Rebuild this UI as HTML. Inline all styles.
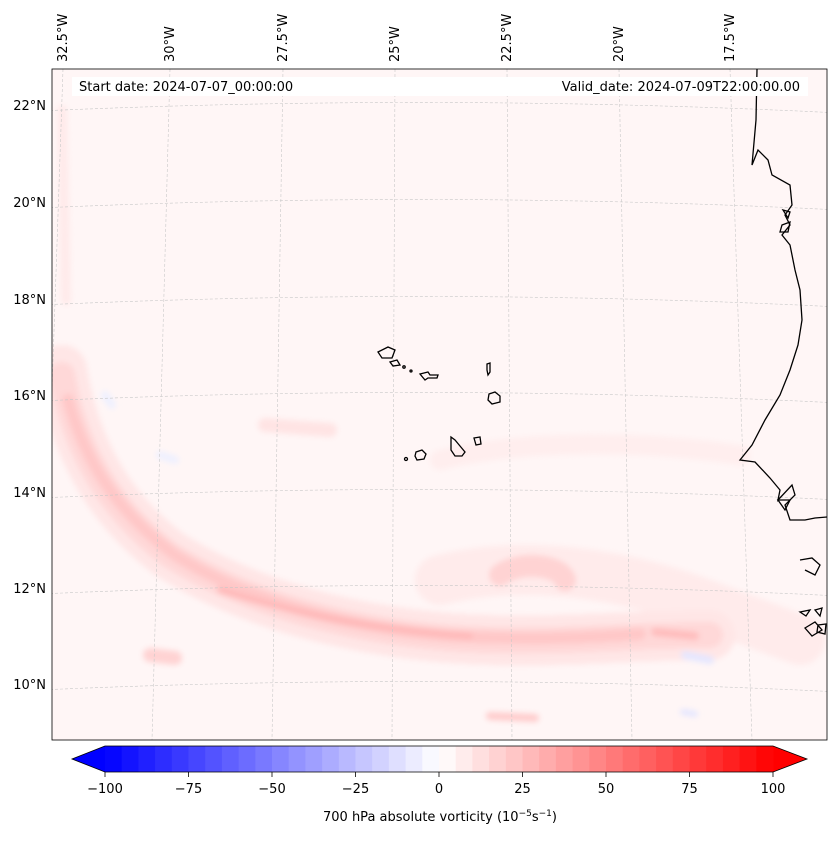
<!DOCTYPE html>
<html><head><meta charset="utf-8"><style>
body{margin:0;background:#fff;font-family:"Liberation Sans","DejaVu Sans",sans-serif;}
svg text{font-family:"DejaVu Sans","Liberation Sans",sans-serif;}
</style></head><body>
<svg id="chart" width="837" height="839" viewBox="0 0 837 839">
<defs><clipPath id="mapclip"><rect x="52" y="69" width="775" height="671"/></clipPath>
<filter id="blur"><feGaussianBlur stdDeviation="3"/></filter></defs>
<g clip-path="url(#mapclip)">
<rect x="52" y="69" width="775" height="671" fill="#fff6f6"/>
<g filter="url(#blur)" fill="none" stroke-linecap="round">
<path d="M62 110 L66 300" stroke="#ffeaea" stroke-width="10"/>
<path d="M440 580 C520 560 620 570 720 610 L800 640" stroke="#ffebeb" stroke-width="50"/>
<path d="M440 460 C520 440 640 440 740 455" stroke="#ffeeee" stroke-width="20"/>
<path d="M500 575 C520 560 560 565 565 580" stroke="#ffd3d3" stroke-width="22"/>
<path d="M62 370 C75 450 110 510 170 555 C250 605 350 630 450 638 C550 645 620 635 710 635" stroke="#ffe6e6" stroke-width="50"/>
<path d="M62 375 C75 450 110 510 170 555 C250 605 350 630 450 638 C550 645 620 635 710 635" stroke="#ffd8d8" stroke-width="26"/>
<path d="M68 400 C85 460 115 510 175 555 C250 603 350 628 450 636 C530 640 580 638 640 634" stroke="#ffc8c8" stroke-width="12"/>
<path d="M220 590 C300 615 380 630 470 636" stroke="#ffb8b8" stroke-width="6"/>
<path d="M655 632 L695 636" stroke="#ffbcbc" stroke-width="8"/>
<path d="M150 655 L175 658" stroke="#ffd3d3" stroke-width="14"/>
<path d="M490 716 L535 718" stroke="#ffcccc" stroke-width="8"/>
<path d="M265 425 L330 430" stroke="#ffe4e4" stroke-width="14"/>
<path d="M685 655 L710 660" stroke="#e4e6ff" stroke-width="8"/>
<path d="M160 455 L175 460" stroke="#eef0ff" stroke-width="8"/>
<path d="M105 395 L112 405" stroke="#eef0ff" stroke-width="8"/>
<path d="M683 712 L695 714" stroke="#e4e6ff" stroke-width="6"/>
</g>
<g id="grid" stroke="#c8c8c8" stroke-width="0.6" stroke-dasharray="3,2" fill="none"></g>
<g fill="none" stroke="#000" stroke-width="1.3">
<path d="M757 69 L756 120 L752 165 L758 150 L768 160 L772 175 L790 185 L792 205 L785 215 L790 225 L782 235 L790 245 L795 270 L800 290 L802 320 L798 345 L790 370 L780 395 L765 420 L752 445 L740 460 L755 462 L770 478 L780 490 L778 500 L792 485 L795 495 L785 505 L790 520 L805 520 L815 518 L827 517"/>
<path d="M778 500 L790 500 L785 510 Z"/>
<path d="M800 560 L812 558 L820 565 L815 575 L805 570"/>
<path d="M800 612 L810 610 L806 616 Z M815 610 L822 608 L820 616 Z M805 628 L815 622 L822 630 L812 636 Z M818 625 L826 624 L825 634 L817 632 Z"/>
<path d="M782 225 L790 222 L788 232 L780 232 Z M783 210 L790 212 L788 218 Z"/>
</g>
<g fill="none" stroke="#000" stroke-width="1.3">
<path d="M378 352 L388 347 L395 350 L392 358 L382 358 Z"/>
<path d="M390 362 L397 360 L400 365 L393 366 Z"/>
<circle cx="404" cy="367" r="1.2"/><circle cx="411" cy="371" r="1"/>
<path d="M420 374 L428 372 L430 375 L438 375 L437 378 L428 378 L425 380 Z"/>
<path d="M487 364 L490 363 L490 372 L488 375 L487 370 Z"/>
<path d="M489 394 L495 392 L500 396 L500 402 L492 404 L488 400 Z"/>
<path d="M451 437 L455 440 L460 446 L465 452 L462 456 L455 456 L451 450 Z"/>
<path d="M474 438 L480 437 L481 444 L476 445 Z"/>
<path d="M416 452 L422 450 L426 454 L424 459 L417 460 L415 456 Z"/>
<circle cx="406" cy="459" r="1.5"/>
</g>
</g>
<rect x="52" y="69" width="775" height="671" fill="none" stroke="#000" stroke-width="0.8"/>
<rect x="72" y="77" width="736" height="19" fill="#fff"/>
<text x="79" y="91" font-size="13">Start date: 2024-07-07_00:00:00</text>
<text x="800" y="91" font-size="13" text-anchor="end">Valid_date: 2024-07-09T22:00:00.00</text>
<g id="latlabels" font-size="13" text-anchor="end"></g>
<g id="lonlabels" font-size="13"></g>
<g id="cbar"></g>
<text x="440" y="821" font-size="13" text-anchor="middle">700 hPa absolute vorticity (10<tspan font-size="9" dy="-5">−5</tspan><tspan dy="5">s</tspan><tspan font-size="9" dy="-5">−1</tspan><tspan dy="5">)</tspan></text>
</svg>
<script>
const latLabels=["22°N","20°N","18°N","16°N","14°N","12°N","10°N"];
const latY=[105,202,299,395,492,588,684];
const lonLabels=["32.5°W","30°W","27.5°W","25°W","22.5°W","20°W","17.5°W"];
const lonTopX=[63,170,283,395,507,619,730];
const lonBotX=[40,152,272,392,512,632,752];
const cbarTicks=[-100,-75,-50,-25,0,25,50,75,100];
const cbarMin=-100,cbarMax=100,cbarStep=5;
const NS="http://www.w3.org/2000/svg";
function mk(t,a,p){const e=document.createElementNS(NS,t);for(const k in a)e.setAttribute(k,a[k]);p.appendChild(e);return e;}
const grid=document.getElementById('grid');
latY.forEach((y,i)=>{
 const p=mk('path',{d:`M40 ${y+6} Q440 ${y-12} 840 ${y+8}`},grid);
 
 
 const t=mk('text',{x:46,y:y+5},document.getElementById('latlabels'));t.textContent=latLabels[i];
 
 
});
lonTopX.forEach((x,i)=>{
 const p=mk('line',{x1:x,y1:69,x2:lonBotX[i],y2:740},grid);
 
 
 const t=mk('text',{x:0,y:0,transform:`translate(${x+4},62) rotate(-90)`},document.getElementById('lonlabels'));t.textContent=lonLabels[i];
 
 
});
const cb=document.getElementById('cbar');
const cx0=105,cx1=773,cy=746,ch=26;
const sx=v=>cx0+(v-cbarMin)/(cbarMax-cbarMin)*(cx1-cx0);
function bwr(t){let r,g,b;if(t<0.5){r=g=Math.round(255*t*2);b=255;}else{r=255;g=b=Math.round(255*(1-t)*2);}return `rgb(${r},${g},${b})`;}
mk('path',{d:`M${cx0} ${cy} L72 ${cy+ch/2} L${cx0} ${cy+ch} Z`,fill:'rgb(0,0,255)'},cb);
mk('path',{d:`M${cx1} ${cy} L807 ${cy+ch/2} L${cx1} ${cy+ch} Z`,fill:'rgb(255,0,0)'},cb);
for(let v=cbarMin;v<cbarMax;v+=cbarStep){
 const r=mk('rect',{x:sx(v),y:cy,width:sx(v+cbarStep)-sx(v)+0.5,height:ch,fill:bwr((v+cbarStep/2-cbarMin)/(cbarMax-cbarMin))},cb);
 
 
}
mk('path',{d:`M${cx0} ${cy} L72 ${cy+ch/2} L${cx0} ${cy+ch} L${cx1} ${cy+ch} L807 ${cy+ch/2} L${cx1} ${cy} Z`,fill:'none',stroke:'#000','stroke-width':0.8},cb);
cbarTicks.forEach(v=>{
 mk('line',{x1:sx(v),y1:cy+ch,x2:sx(v),y2:cy+ch+5,stroke:'#000','stroke-width':0.8},cb);
 const t=mk('text',{x:sx(v),y:cy+ch+21,'font-size':13,'text-anchor':'middle'},cb);
 t.textContent=(v<0?'−':'')+Math.abs(v);
 
 
});
</script>
</body></html>
